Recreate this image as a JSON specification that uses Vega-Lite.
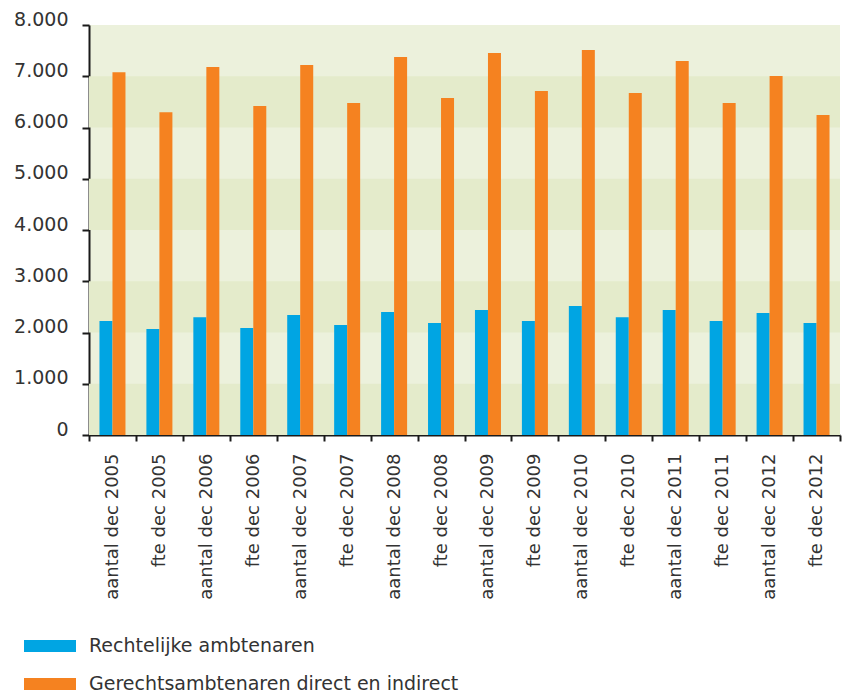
{
  "$schema": "https://vega.github.io/schema/vega-lite/v6.json",
  "width": 751,
  "height": 410,
  "autosize": {"type": "none"},
  "padding": {"left": 89, "top": 25, "right": 9, "bottom": 262},
  "background": "white",
  "view": {"fill": "#ecf1dc", "stroke": null},
  "datasets": {
    "bands": [
      {"lo": 0, "hi": 1000},
      {"lo": 2000, "hi": 3000},
      {"lo": 4000, "hi": 5000},
      {"lo": 6000, "hi": 7000}
    ],
    "bars": [
      {"category": "aantal dec 2005", "series": "Rechtelijke ambtenaren", "value": 2225},
      {"category": "aantal dec 2005", "series": "Gerechtsambtenaren direct en indirect", "value": 7080},
      {"category": "fte dec 2005", "series": "Rechtelijke ambtenaren", "value": 2070},
      {"category": "fte dec 2005", "series": "Gerechtsambtenaren direct en indirect", "value": 6300},
      {"category": "aantal dec 2006", "series": "Rechtelijke ambtenaren", "value": 2300},
      {"category": "aantal dec 2006", "series": "Gerechtsambtenaren direct en indirect", "value": 7180},
      {"category": "fte dec 2006", "series": "Rechtelijke ambtenaren", "value": 2090},
      {"category": "fte dec 2006", "series": "Gerechtsambtenaren direct en indirect", "value": 6420},
      {"category": "aantal dec 2007", "series": "Rechtelijke ambtenaren", "value": 2340},
      {"category": "aantal dec 2007", "series": "Gerechtsambtenaren direct en indirect", "value": 7220},
      {"category": "fte dec 2007", "series": "Rechtelijke ambtenaren", "value": 2145},
      {"category": "fte dec 2007", "series": "Gerechtsambtenaren direct en indirect", "value": 6480},
      {"category": "aantal dec 2008", "series": "Rechtelijke ambtenaren", "value": 2400},
      {"category": "aantal dec 2008", "series": "Gerechtsambtenaren direct en indirect", "value": 7375},
      {"category": "fte dec 2008", "series": "Rechtelijke ambtenaren", "value": 2185},
      {"category": "fte dec 2008", "series": "Gerechtsambtenaren direct en indirect", "value": 6575},
      {"category": "aantal dec 2009", "series": "Rechtelijke ambtenaren", "value": 2440},
      {"category": "aantal dec 2009", "series": "Gerechtsambtenaren direct en indirect", "value": 7455},
      {"category": "fte dec 2009", "series": "Rechtelijke ambtenaren", "value": 2225},
      {"category": "fte dec 2009", "series": "Gerechtsambtenaren direct en indirect", "value": 6710},
      {"category": "aantal dec 2010", "series": "Rechtelijke ambtenaren", "value": 2515},
      {"category": "aantal dec 2010", "series": "Gerechtsambtenaren direct en indirect", "value": 7510},
      {"category": "fte dec 2010", "series": "Rechtelijke ambtenaren", "value": 2300},
      {"category": "fte dec 2010", "series": "Gerechtsambtenaren direct en indirect", "value": 6675},
      {"category": "aantal dec 2011", "series": "Rechtelijke ambtenaren", "value": 2440},
      {"category": "aantal dec 2011", "series": "Gerechtsambtenaren direct en indirect", "value": 7300},
      {"category": "fte dec 2011", "series": "Rechtelijke ambtenaren", "value": 2225},
      {"category": "fte dec 2011", "series": "Gerechtsambtenaren direct en indirect", "value": 6480},
      {"category": "aantal dec 2012", "series": "Rechtelijke ambtenaren", "value": 2380},
      {"category": "aantal dec 2012", "series": "Gerechtsambtenaren direct en indirect", "value": 7005},
      {"category": "fte dec 2012", "series": "Rechtelijke ambtenaren", "value": 2185},
      {"category": "fte dec 2012", "series": "Gerechtsambtenaren direct en indirect", "value": 6245}
    ]
  },
  "layer": [
    {
      "data": {"name": "bands"},
      "mark": {"type": "rect", "color": "#e4ebcb"},
      "encoding": {
        "y": {"field": "lo", "type": "quantitative", "scale": {"domain": [0, 8000], "nice": false},
              "axis": {"title": null, "values": [0,1000,2000,3000,4000,5000,6000,7000,8000], "labelExpr": "replace(format(datum.value, ',d'), ',', '.')"}},
        "y2": {"field": "hi"}
      }
    },
    {
      "data": {"name": "bars"},
      "mark": {"type": "bar"},
      "encoding": {
        "x": {"field": "category", "type": "nominal", "sort": null,
              "scale": {"paddingInner": 0, "paddingOuter": 0},
              "axis": {"title": null, "labelAngle": -90}},
        "xOffset": {"field": "series", "type": "nominal", "sort": null,
                    "scale": {"paddingInner": 0, "paddingOuter": 0.805}},
        "y": {"field": "value", "type": "quantitative",
              "axis": {"title": null, "values": [0,1000,2000,3000,4000,5000,6000,7000,8000], "labelExpr": "replace(format(datum.value, ',d'), ',', '.')"}},
        "color": {"field": "series", "type": "nominal", "sort": null,
                  "scale": {"domain": ["Rechtelijke ambtenaren", "Gerechtsambtenaren direct en indirect"], "range": ["#00a5e3", "#f58220"]},
                  "legend": {"title": null}}
      }
    }
  ],
  "config": {
    "axis": {
      "domainColor": "#1a1a1a", "domainWidth": 2, "tickColor": "#1a1a1a", "tickWidth": 2,
      "labelFont": "DejaVu Sans", "labelColor": "#333333", "grid": false
    },
    "axisY": {"tickSize": 7, "labelPadding": 14, "labelFontSize": 19, "labelBaseline": "alphabetic"},
    "axisX": {"tickSize": 6, "labelPadding": 12, "labelFontSize": 18, "tickBand": "extent"},
    "legend": {
      "orient": "none", "legendX": -65, "legendY": 611, "padding": 0,
      "symbolType": "M-1,-0.23L1,-0.23L1,0.23L-1,0.23Z", "symbolSize": 2704, "symbolStrokeWidth": 0,
      "labelFont": "DejaVu Sans", "labelFontSize": 19, "labelColor": "#333333", "labelOffset": 13, "labelLimit": 0,
      "clipHeight": 20, "rowPadding": 18, "direction": "vertical"
    }
  }
}
